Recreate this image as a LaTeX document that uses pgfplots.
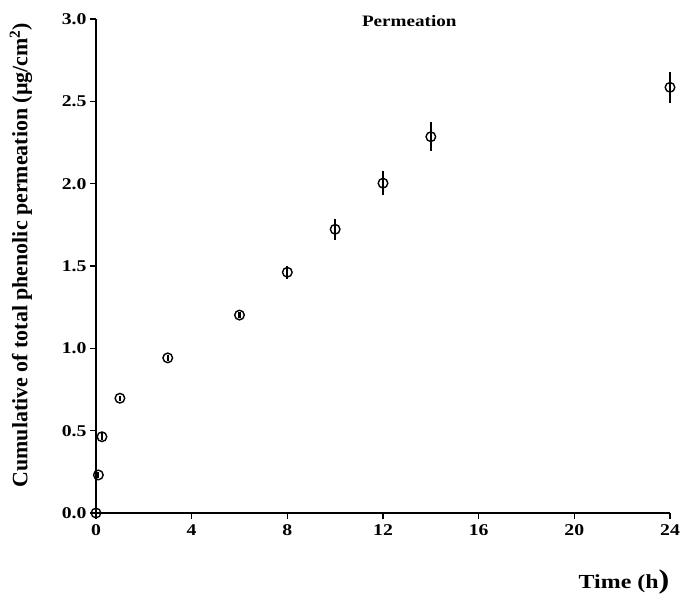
\documentclass[border=0pt]{standalone}
\usepackage{fontspec}
\setmainfont{Liberation Serif}[FakeStretch=1.2]
\newfontfamily\ylabfont{Liberation Serif}
\usepackage{pgfplots}
\pgfplotsset{compat=1.18}

\begin{document}
\begin{tikzpicture}
\begin{axis}[name=ax,
    scale only axis, width=574bp, height=494bp,
    xmin=0, xmax=24, ymin=0, ymax=3,
    axis x line*=bottom, axis y line*=left,
    axis line style={line width=1.6bp},
    every tick/.style={line width=1.4bp, black},
    tick align=outside, major tick length=6bp,
    xtick={0,4,...,24}, ytick={0,0.5,...,3},
    /pgf/number format/assume math mode=true,
    yticklabel style={/pgf/number format/.cd,fixed,fixed zerofill,precision=1},
    ticklabel style={font=\fontsize{16.5}{18}\selectfont\bfseries},
    xticklabel style={yshift=-2bp},
    clip=false]
  \addplot[only marks, mark=o, mark size=4.8bp, line width=1.4bp, black,
    error bars/.cd, y dir=both, y explicit,
    error mark=none, error bar style={line width=2.2bp, black}]
    table[x=t, y=c, y error=e] {
      t      c      e
      0      0      0
      0.1    0.231  0.02
      0.25   0.463  0.02
      1      0.697  0.015
      3      0.942  0.02
      6      1.202  0.02
      8      1.462  0.04
      10     1.723  0.064
      12     2.003  0.074
      14     2.285  0.088
      24     2.585  0.095
    };
  \node[font=\fontsize{16}{18}\selectfont\bfseries] at (axis cs:13.1,2.99) {Permeation};
\end{axis}
\node[rotate=90, font=\ylabfont\fontsize{22}{24}\selectfont\bfseries]
  at ([xshift=-75bp, yshift=258bp]ax.south west)
  {Cumulative of total phenolic permeation (µg/cm\textsuperscript{2})};
\node[font=\fontsize{20}{22}\selectfont\bfseries]
  at ([xshift=528bp, yshift=-69bp]ax.south west)
  {Time (h{\fontsize{27}{28}\selectfont )}};
\pgfresetboundingbox
\path ([xshift=-96bp, yshift=-88bp]ax.south west) rectangle ++(684bp,601bp);
\end{tikzpicture}
\end{document}
